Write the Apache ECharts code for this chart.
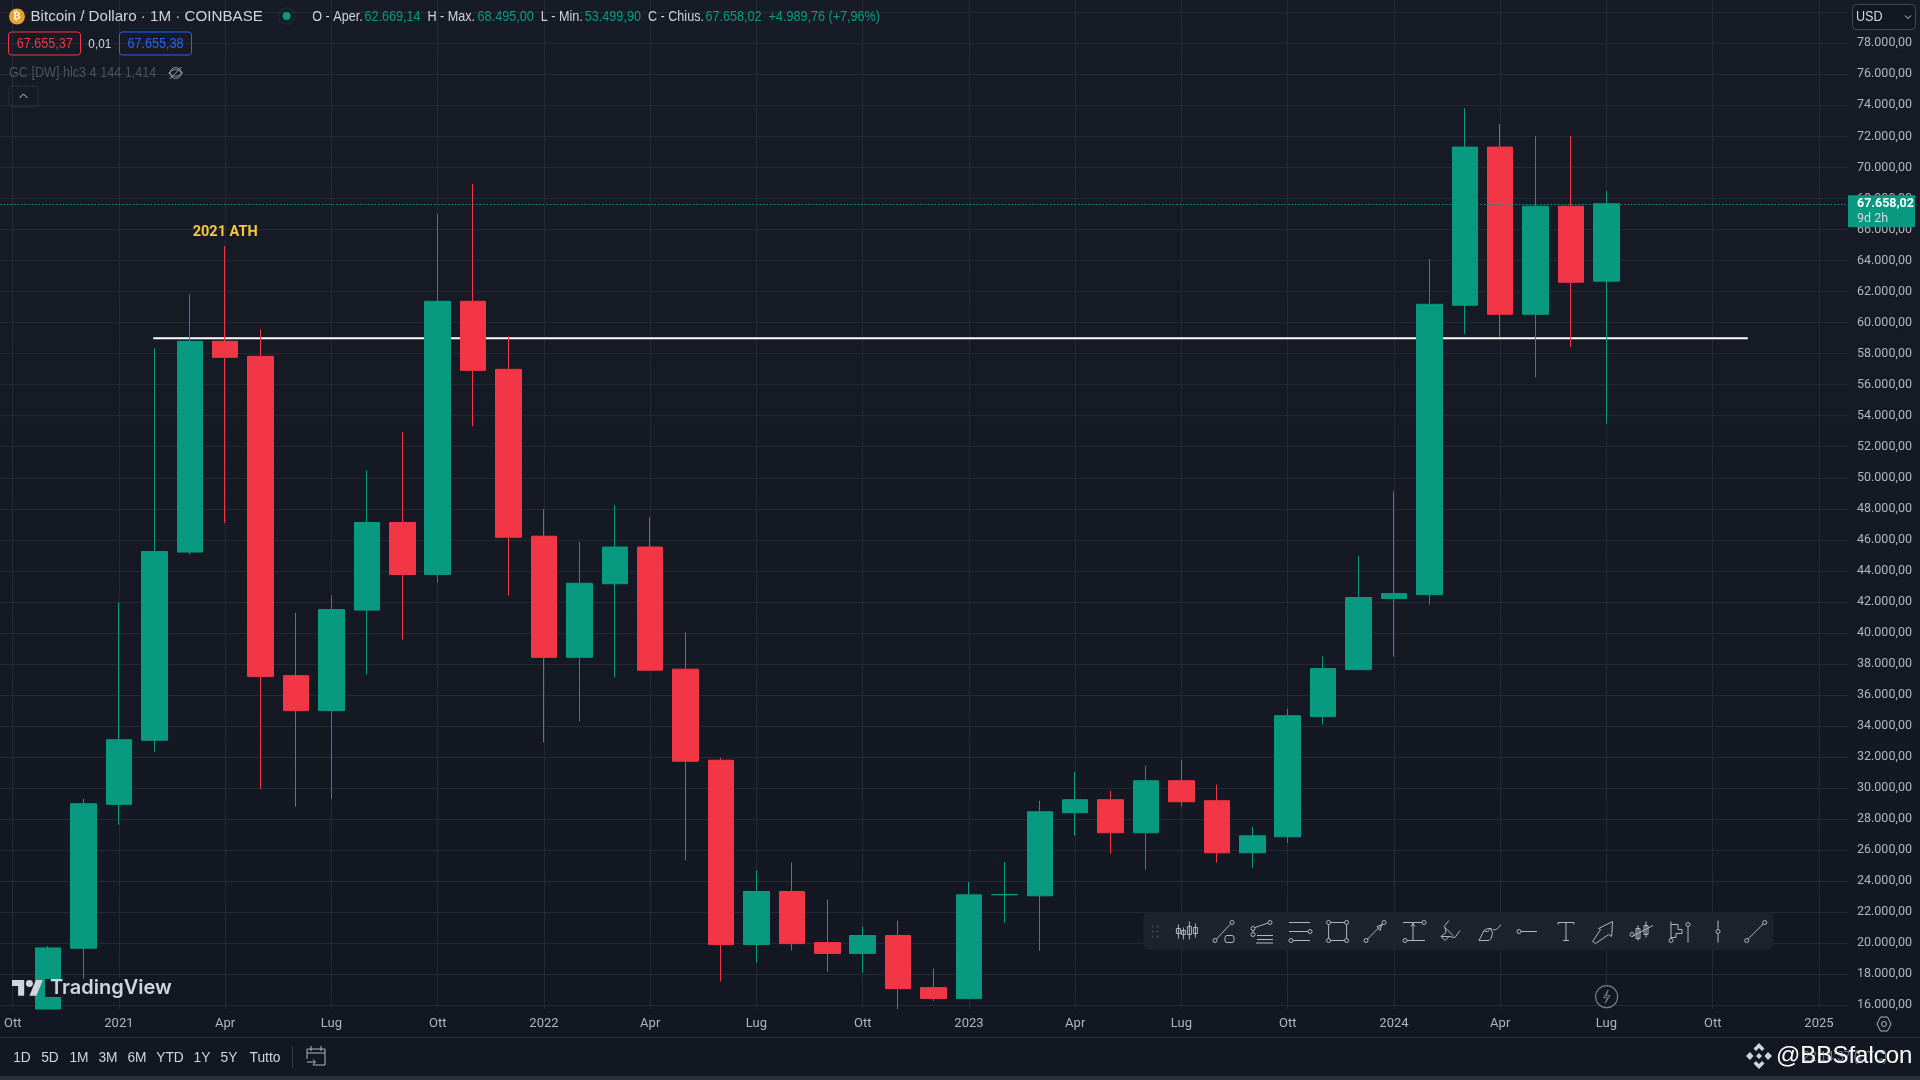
<!DOCTYPE html>
<html><head><meta charset="utf-8"><title>Bitcoin / Dollaro</title>
<style>html,body{margin:0;padding:0;background:#131722}#c{width:1920px;height:1080px}</style>
<script src="https://cdn.jsdelivr.net/npm/echarts@6/dist/echarts.min.js"></script>
</head><body><div id="c"></div>
<script>
// month index 0 = Ott 2020; bars run from Nov 2020 to Lug 2024
const barIndex = [1,2,3,4,5,6,7,8,9,10,11,12,13,14,15,16,17,18,19,20,21,22,23,24,25,26,27,28,29,30,31,32,33,34,35,36,37,38,39,40,41,42,43,44,45];
const opens  = [13800,19680,28950,33080,45210,58793,57826,37247,34989,41470,47116,43763,61374,56987,46233,38425,43170,45535,37662,31795,19909,23333,20040,19342,20498,17139,16430,23120,23054,28409,29248,27119,30473,29183,25828,26860,34602,37634,42213,42467,61116,71310,60535,67503,62669.14];
const closes = [19699,28990,33118,45245,58793,57761,37183,34989,41505,47116,43763,61374,56922,46168,38425,43202,45535,37597,31730,19909,23333,19974,19342,20498,17073,16441,23119,23135,28473,29248,27119,30473,29118,25828,26925,34667,37699,42280,42536,61180,71310,60535,67503,62600,67658.02];
const lows   = [13600,17570,27635,32344,45050,47073,29957,28796,29312,37312,39570,43247,53309,42395,32951,34303,37139,37550,25340,17532,18753,19538,18164,18099,15500,16266,16400,21312,19506,26925,25764,24731,28796,25183,24860,26473,34086,37620,38471,41826,59245,59051,56471,58406,53499.9];
const highs  = [19828,29312,41957,58342,61825,64922,59567,41312,42409,50471,52923,66987,68942,59116,47978,45863,48240,47477,40039,31948,24685,25209,22809,21086,21457,18360,23957,25247,29183,31054,29828,31441,31828,30215,27505,35118,38473,44987,49116,64083,73825,72793,72019,72019,68495];
const monthTicks = [0,3,6,9,12,15,18,21,24,27,30,33,36,39,42,45,48,51];
const monthLabels = ['Ott','2021','Apr','Lug','Ott','2022','Apr','Lug','Ott','2023','Apr','Lug','Ott','2024','Apr','Lug','Ott','2025'];
const priceLabels = [16000,18000,20000,22000,24000,26000,28000,30000,32000,34000,36000,38000,40000,42000,44000,46000,48000,50000,52000,54000,56000,58000,60000,62000,64000,66000,68000,70000,72000,74000,76000,78000];
const priceGrid = priceLabels.concat([80000]);
const resistanceLevel = 58987;
const resistanceFrom = 3.97, resistanceTo = 48.99;
const lastClose = 67658.02;
const noteName = '2021 ATH', noteBar = 6, notePrice = 65840;
const axisFloor = 15761, axisCeil = 80791;

const GREEN='#089981', RED='#F23645', TXT='#D1D4DC', AXIS='#B2B5BE', BG='#131722', GRID='#252934';
const SANS='"Liberation Sans",sans-serif', AXF='Roboto,sans-serif';
const fmt = v => { const s=v.toFixed(2).split('.'); return s[0].replace(/\B(?=(\d{3})+$)/g,'.')+','+s[1]; };
// the pane cuts off whatever lies below its lower edge
const inPane = v => Math.max(v, axisFloor);

const g=[]; const Z=100; let pn=0;
const rect=(x,y,w,h,fill,extra={})=>g.push({type:'rect',z:Z,shape:{x,y,width:w,height:h,r:extra.r||0},style:{fill,stroke:extra.stroke,lineWidth:extra.lw||1,lineDash:extra.dash}});
const text=(t,x,y,fill,size=15,align='left',k=0.87,weight='normal',font=SANS)=>g.push({type:'text',z:Z+1,x,y,scaleX:k,style:{text:t,x:0,y:0,fill,font:`${weight} ${size}px ${font}`,textAlign:align,textVerticalAlign:'middle'}});
const path=(d,x,y,stroke='#B2B5BE',fill='none',lw=1,z=Z+1,sx=1,sy=1)=>{
  const name='svgicon'+(pn++);
  echarts.graphic.registerShape(name,echarts.graphic.extendPath(d,{}));
  g.push({type:name,z,x,y,scaleX:sx,scaleY:sy,style:{stroke,fill,lineWidth:lw}});
};
const circ=(x,y,r=2)=>`M${x-r} ${y}a${r} ${r} 0 1 0 ${2*r} 0a${r} ${r} 0 1 0 ${-2*r} 0`;

// bottom bars
rect(0,1037,1920,1,'#2A2E39');
rect(0,1076,1920,4,'#2C2F38');

// header
g.push({type:'circle',z:Z,shape:{cx:17,cy:16.5,r:8},style:{fill:'#E8A02A'}});
text('₿',17,16.5,'#fff',11,'center',1,'bold','"DejaVu Sans"');
text('Bitcoin / Dollaro · 1M · COINBASE',30.5,16.5,TXT,15,'left',1.01);
g.push({type:'circle',z:Z,shape:{cx:286.6,cy:16,r:8},style:{fill:'none',stroke:'#0b4a44',lineWidth:1.5,lineDash:[1,1.5]}});
g.push({type:'circle',z:Z,shape:{cx:286.6,cy:16,r:4},style:{fill:GREEN}});
[['O - Aper.',312.3,TXT],['62.669,14',364.4,GREEN],['H - Max.',427.4,TXT],['68.495,00',477.6,GREEN],['L - Min.',540.7,TXT],['53.499,90',584.8,GREEN],['C - Chius.',647.9,TXT],['67.658,02',705.4,GREEN],['+4.989,76 (+7,96%)',768.5,GREEN]]
  .forEach(r=>text(r[0],r[1],16.5,r[2],14.5));
rect(8.5,32,72,23,'none',{stroke:RED,r:3});
text('67.655,37',44.7,44,RED,14.5,'center');
text('0,01',99.8,44,TXT,13.5,'center');
rect(119.5,32,72,23,'none',{stroke:'#2962FF',r:3});
text('67.655,38',155.5,44,'#2962FF',14.5,'center');
text('GC [DW] hlc3 4 144 1,414',9,73,'#4E525E',14.5);
path(circ(0,0,5.5)+'M-6 6L6 -6M-7 0Q0 -7 7 0Q0 7 -7 0',175.7,73,'#9598A1');
rect(9,86,29,21,'none',{stroke:'#434651',r:3,dash:[1,1]});
path('M-4 2L0 -2L4 2',23.5,96,'#D1D4DC');

// USD button
rect(1852.5,4.5,63,25,'#131722',{stroke:'#434651',r:4});
text('USD',1856,17,TXT,14,'left',0.9);
path('M-3 -1.5L0 1.5L3 -1.5',1908,17,TXT);

// settings hexagon, lightning
path('M-7 0L-3.5 -7H3.5L7 0L3.5 7H-3.5Z'+circ(0,0,2.5),1884,1024,'#B2B5BE');
g.push({type:'circle',z:Z,shape:{cx:1606.6,cy:996.7,r:11},style:{fill:BG,stroke:'#787B86',lineWidth:1.2}});
path('M1.5 -6.5L-3 1H1L-1.5 6.5L3.5 -1H-0.5Z',1606.6,996.7,'#787B86');

// range bar
[['1D',22],['5D',50],['1M',79],['3M',108],['6M',137],['YTD',170],['1Y',202],['5Y',229],['Tutto',265]]
  .forEach(r=>text(r[0],r[1],1058,TXT,14.5,'center',0.95));
rect(292,1046,1,22,'#363A45');
path('M-9 -7H9V9H-3M-9 -7V3M-9 -3H9M-5 -10V-5M5 -10V-5M-9 6H-1M-3 3.5L-0.5 6L-3 8.5',316,1056,'#B2B5BE');

// TradingView logo, masks the bar behind it
rect(45,979,126,18,'#141823');
path('M14 22H7V11H0V4h14v18zM28 22h-8l7.5-18h8L28 22z'+circ(20,8,4),12,976.5,'none','#D1D4DC',0,Z+1,0.87,0.87);
text('TradingView',50,987.5,'#D1D4DC',20,'left',1,'600','Inter');

// drawing toolbar
rect(1143.5,912,630,38,'#1E222D',{r:6});
const gy=931.5;
[-5,0,5].forEach(dy=>[-2.5,2.5].forEach(dx=>g.push({type:'circle',z:Z+1,shape:{cx:1155+dx,cy:gy+dy,r:0.9},style:{fill:'#4A4E59'}})));
const icons=[
 'M-8 -7V7M-10 -3h4v5h-4zM-3 -4V8M-5 -1h4v4h-4zM3 -10V8M1 -5h4v8h-4zM9 -8V6M7 -4h4v6h-4z',
 circ(-9,9)+'M-7.5 7.5L6 -7'+circ(8,-9)+'M1 6a2 2 0 0 1 2 -2h5a2 2 0 0 1 2 2v3a2 2 0 0 1 -2 2h-5a2 2 0 0 1 -2 -2z',
 circ(-9,-3)+circ(-9,3)+circ(8,-9)+'M-7 -4L6 -8.5M-9 -1V1M-5 4H11M-5 8H11M-6 11.5H11',
 'M-11 -9H10M-11 0H8'+circ(10,0)+circ(-9,9)+'M-7 9H10',
 circ(-9,-9)+circ(9,-9)+circ(-9,9)+circ(9,9)+'M-7 -9H7M-7 9H7M-9 -7V7M9 -7V7',
 circ(-9,9)+circ(9,-9)+'M-7.5 7.5L7.5 -7.5M2 -5L7 -7L5 -1Z',
 'M-11 -9H8'+circ(10,-9)+'M-1 -9V9'+circ(-9,9)+'M-7 9H11M-3 -5L-1 -8L1 -5',
 'M-3 -11L-8 -5L1 4M8 -1L3 6L-3 5L-7 9L-11 5L-6 1L-7 -4M-11 5L-3 5',
 'M-11 9L-6 -1Q-2 -4 1 -3Q4 2 1 7L-1 9H-11M3 -2Q6 0 11 -7M-6 -1Q-3 2 1 -3',
 circ(-9,0)+'M-7 0H9',
 'M-8 -9H8M-8 -9V-7M8 -9V-7M0 -9V9M-3 9H3',
 'M-11 10L-3 -2L-5 -3L9 -10L8 5L5 3L-8 12Z',
 'M-4 -6V9M-6 -3h4v10h-4zM4 -10V6M2 -6h4v9h-4zM-10 5L11 -6'+circ(-10,3),
 'M-8 -10V7'+circ(-8,9)+'M-8 -7H-1V-2H3V2H-3V6H-8M9 -5V11'+circ(9,-7),
 'M0 -11V-2'+circ(0,0)+'M0 2V11',
 circ(-9,9)+'M-7.5 7.5L7.5 -7.5'+circ(9,-9)
];
const iconX=[1186.4,1224,1262,1300,1337.6,1375,1414,1452,1490,1528,1566,1603.6,1642,1679,1718,1755.7];
icons.forEach((d,i)=>path(d,iconX[i],gy,'#B2B5BE','none',1));

// signature
path('M0 -13L5.5 -7.5L3 -5L0 -8L-3 -5L-5.5 -7.5Z M-9 -4L-5.5 0L-9 4L-13 0Z M9 -4L13 0L9 4L5.5 0Z M0 -3L3 0L0 3L-3 0Z M-5.5 7.5L-3 5L0 8L3 5L5.5 7.5L0 13Z',1759,1056,'none','#D1D4DC',0);
text('22:14:37 (UTC)',1845,1057,'#787B86',14,'center');
text('@BBSfalcon',1776,1056.5,'#FFFFFF',24,'left',1);

const chart=echarts.init(document.getElementById('c'),null,{renderer:'canvas'});
chart.setOption({
  animation:false,
  backgroundColor:{type:'linear',x:0,y:0,x2:0,y2:1,colorStops:[{offset:0,color:'#171B26'},{offset:1,color:'#131722'}]},
  grid:{left:0,right:72,top:0,bottom:71},
  xAxis:{type:'value',min:-0.358,max:51.82,axisLine:{show:false},axisTick:{show:false,customValues:monthTicks},
    axisLabel:{customValues:monthTicks,margin:8,color:AXIS,fontFamily:AXF,fontSize:13,formatter:v=>monthLabels[monthTicks.indexOf(v)]},
    splitLine:{show:true,lineStyle:{color:GRID,width:1}}},
  yAxis:{type:'value',position:'right',min:axisFloor,max:axisCeil,axisLine:{show:false},axisTick:{show:false,customValues:priceGrid},
    axisLabel:{customValues:priceLabels,margin:9,color:AXIS,fontFamily:AXF,fontSize:12.5,formatter:v=>fmt(v)},
    splitLine:{show:true,lineStyle:{color:GRID,width:1}}},
  series:[
    {type:'line',name:'level',z:1,symbol:'none',silent:true,lineStyle:{color:'#FFFFFF',width:2},
      data:[[resistanceFrom,resistanceLevel],[resistanceTo,resistanceLevel]]},
    {type:'candlestick',name:'BTCUSD',z:2,barWidth:26,encode:{x:0,y:[1,2,3,4]},
      itemStyle:{color:GREEN,color0:RED,borderColor:GREEN,borderColor0:RED,borderWidth:1},
      data:barIndex.map((x,i)=>[x,inPane(opens[i]),closes[i],inPane(lows[i]),highs[i]]),
      markLine:{silent:true,symbol:'none',animation:false,lineStyle:{color:GREEN,type:[1.5,2],width:1},
        label:{position:'end',distance:0,offset:[0,7.5],backgroundColor:GREEN,padding:[1,6,1,9],width:52,lineHeight:15,
          formatter:'{a|'+fmt(lastClose)+'}\n{b|9d 2h}',
          rich:{a:{color:'#fff',fontWeight:'bold',fontFamily:AXF,fontSize:12.5,lineHeight:15},b:{color:'#D6DAE0',fontFamily:AXF,fontSize:12.5,lineHeight:15}}},
        data:[{yAxis:lastClose}]},
      markPoint:{silent:true,symbol:'circle',symbolSize:1,itemStyle:{color:'rgba(0,0,0,0)'},
        label:{show:true,position:'inside',color:'#F7C83C',fontFamily:AXF,fontSize:14.5,fontWeight:'bold',formatter:noteName},
        data:[{coord:[noteBar,notePrice]}]}
    }
  ],
  graphic:g
});
</script></body></html>
